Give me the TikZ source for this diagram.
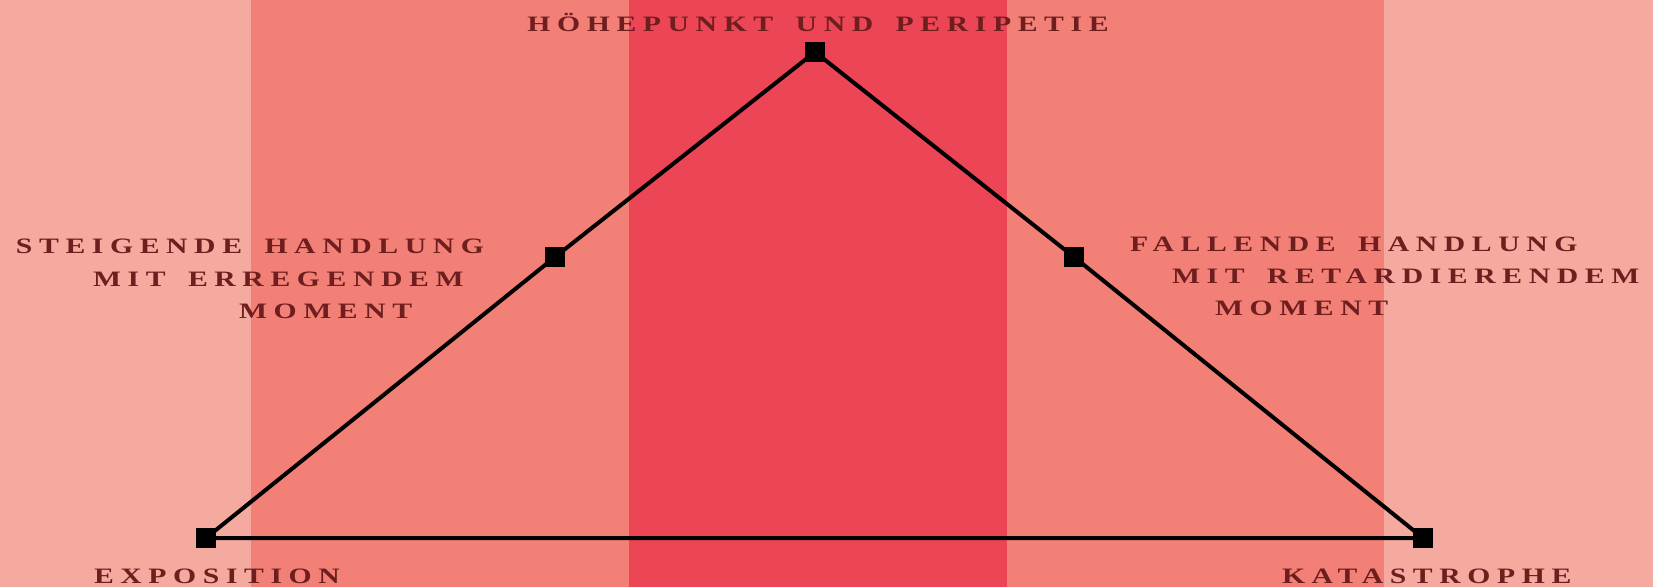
\documentclass[tikz,border=0pt]{standalone}
\usepackage{fontspec}
\newfontfamily\stagefont[LetterSpace=30,FakeStretch=1.35,WordSpace=1.6]{Liberation Serif}
\definecolor{bandlight}{RGB}{245,170,160}
\definecolor{bandmid}{RGB}{243,128,118}
\definecolor{banddark}{RGB}{236,69,85}
\definecolor{labelred}{RGB}{110,30,30}
\begin{document}
\begin{tikzpicture}[x=1pt, y=1pt, line width=4pt,
  stagebox/.style={fill=black, draw=none, minimum size=20pt, inner sep=0pt},
  stagelabel/.style={font=\stagefont\bfseries\fontsize{22}{22}\selectfont, text=labelred, inner sep=0pt}]
  \useasboundingbox (0,0) rectangle (1653,587);
  % bands: light | mid | dark | mid | light
  \fill[bandlight] (0,0) rectangle (251,587);
  \fill[bandmid] (251,0) rectangle (629,587);
  \fill[banddark] (629,0) rectangle (1007,587);
  \fill[bandmid] (1007,0) rectangle (1384,587);
  \fill[bandlight] (1384,0) rectangle (1653,587);
  % the five stages
  \node[stagebox] (expo) at (206,49) {};
  \node[stagebox] (steig) at (555,330) {};
  \node[stagebox] (hoehe) at (815,535) {};
  \node[stagebox] (fall) at (1074,330) {};
  \node[stagebox] (kata) at (1423,49) {};
  \draw (expo.center) -- (steig.center) -- (hoehe.center) -- (fall.center) -- (kata.center) -- cycle;
  % labels
  \node[stagelabel, anchor=base] (hoeheT) at (818,555) {HÖHEPUNKT UND PERIPETIE};
  \node[stagelabel, anchor=base west] (steigA) at (14,333) {STEIGENDE HANDLUNG};
  \node[stagelabel, anchor=base west] (steigB) at (91,301) {MIT ERREGENDEM};
  \node[stagelabel, anchor=base west] (steigC) at (237,269) {MOMENT};
  \node[stagelabel, anchor=base west] (fallA) at (1128,335) {FALLENDE HANDLUNG};
  \node[stagelabel, anchor=base west] (fallB) at (1170,304) {MIT RETARDIERENDEM};
  \node[stagelabel, anchor=base west] (fallC) at (1213,272) {MOMENT};
  \node[stagelabel, anchor=base west] (expoT) at (92,4) {EXPOSITION};
  \node[stagelabel, anchor=base west] (kataT) at (1280,4) {KATASTROPHE};
\end{tikzpicture}
\end{document}
